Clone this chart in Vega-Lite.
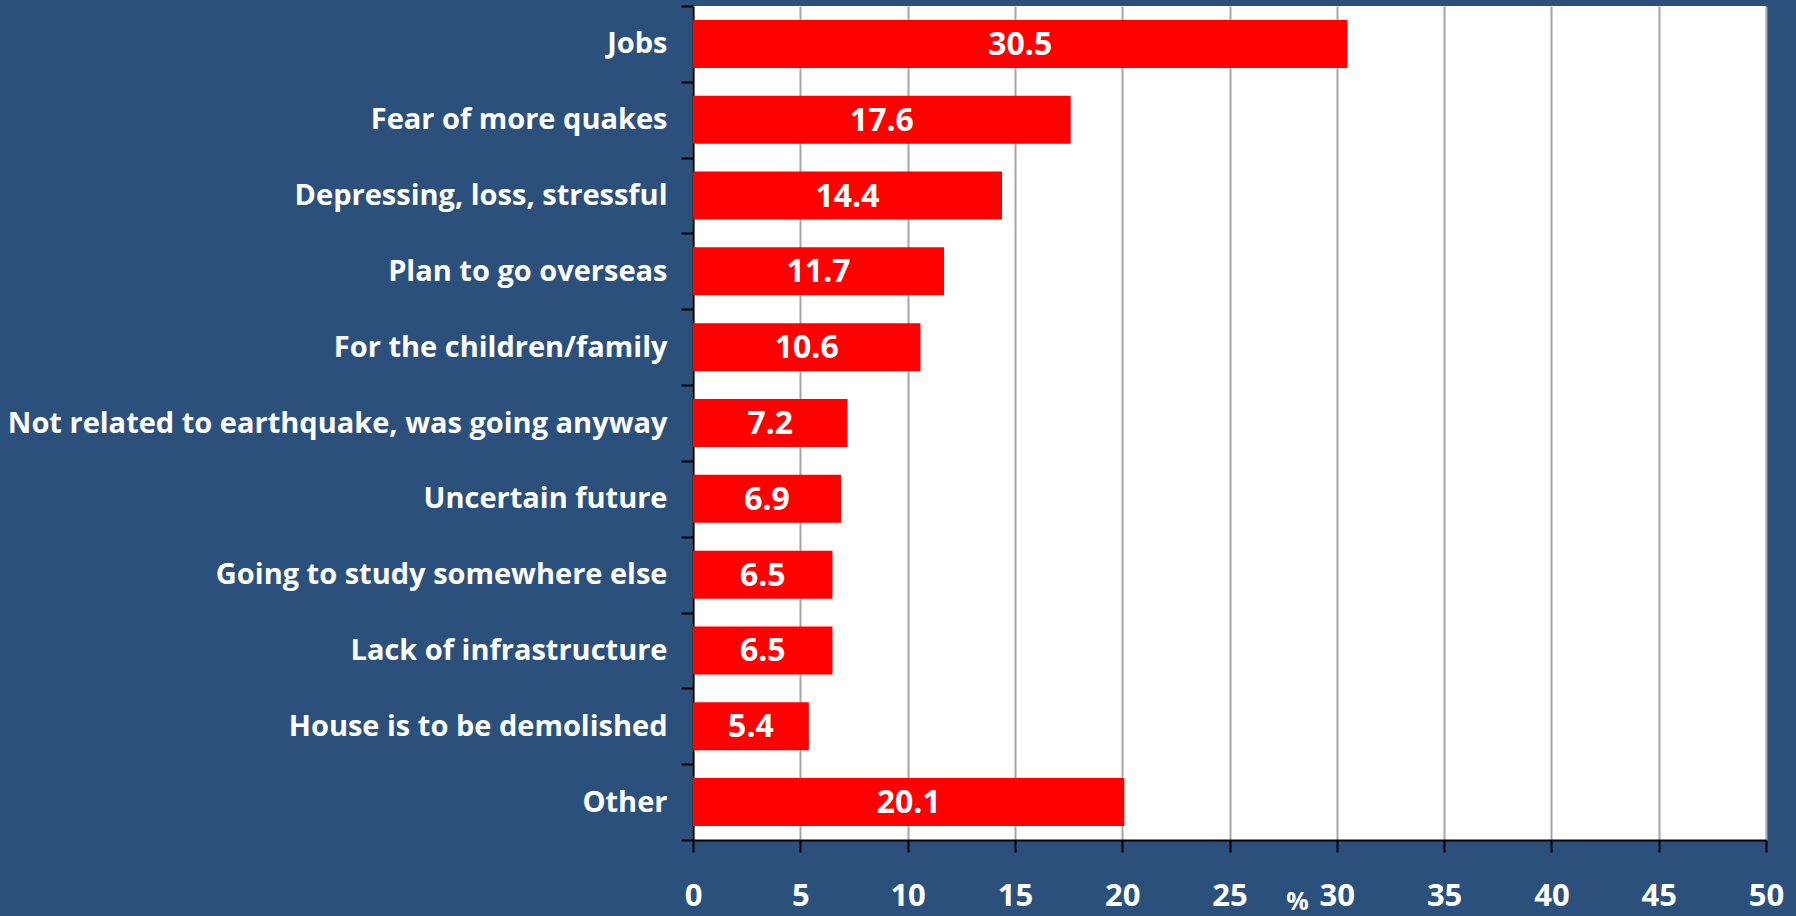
{
  "$schema": "https://vega.github.io/schema/vega-lite/v6.json",
  "width": 1073,
  "height": 834,
  "autosize": {"type": "none"},
  "padding": {"left": 693, "top": 6, "right": 30, "bottom": 76},
  "background": "#2b507c",
  "config": {
    "view": {"fill": "#ffffff", "stroke": null},
    "font": "Open Sans"
  },
  "data": {
    "values": [
      {"reason": "Jobs", "value": 30.5},
      {"reason": "Fear of more quakes", "value": 17.6},
      {"reason": "Depressing, loss, stressful", "value": 14.4},
      {"reason": "Plan to go overseas", "value": 11.7},
      {"reason": "For the children/family", "value": 10.6},
      {"reason": "Not related to earthquake, was going anyway", "value": 7.2},
      {"reason": "Uncertain future", "value": 6.9},
      {"reason": "Going to study somewhere else", "value": 6.5},
      {"reason": "Lack of infrastructure", "value": 6.5},
      {"reason": "House is to be demolished", "value": 5.4},
      {"reason": "Other", "value": 20.1}
    ]
  },
  "encoding": {
    "y": {
      "field": "reason",
      "type": "nominal",
      "sort": null,
      "scale": {"paddingInner": 0, "paddingOuter": 0},
      "axis": {
        "title": null,
        "domainColor": "#000000",
        "domainWidth": 2,
        "tickColor": "#000000",
        "tickWidth": 2,
        "tickSize": 12,
        "tickBand": "extent",
        "labelColor": "#ffffff",
        "labelFont": "Open Sans",
        "labelFontWeight": "bold",
        "labelFontSize": 29,
        "labelPadding": 14,
        "labelLimit": 1000,
        "grid": false
      }
    }
  },
  "layer": [
    {
      "mark": {"type": "bar", "color": "#ff0000", "size": 48},
      "encoding": {
        "x": {
          "field": "value",
          "type": "quantitative",
          "scale": {"domain": [0, 50], "nice": false},
          "axis": {
            "values": [0, 5, 10, 15, 20, 25, 30, 35, 40, 45, 50],
            "title": "%",
            "titleColor": "#ffffff",
            "titleFont": "Open Sans",
            "titleFontWeight": "bold",
            "titleFontSize": 25,
            "titleX": 604,
            "titleY": 69,
            "titleAlign": "center",
            "titleBaseline": "alphabetic",
            "titleAnchor": null,
            "domainColor": "#000000",
            "domainWidth": 2,
            "tickColor": "#000000",
            "tickWidth": 2,
            "tickSize": 12,
            "grid": true,
            "gridColor": "#a6a6a6",
            "gridWidth": 2,
            "labelColor": "#ffffff",
            "labelFont": "Open Sans",
            "labelFontWeight": "bold",
            "labelFontSize": 31,
            "labelPadding": 44,
            "labelBaseline": "middle",
            "labelFlush": false,
            "labelOverlap": false
          }
        }
      }
    },
    {
      "mark": {
        "type": "text",
        "color": "#ffffff",
        "font": "Open Sans",
        "fontWeight": "bold",
        "fontSize": 32,
        "baseline": "middle",
        "align": "center",
        "dy": 1
      },
      "encoding": {
        "x": {
          "field": "value",
          "type": "quantitative",
          "scale": {"domain": [0, 100], "nice": false},
          "axis": null
        },
        "text": {"field": "value", "type": "quantitative", "format": ".1f"}
      }
    }
  ],
  "resolve": {"scale": {"x": "independent"}}
}
